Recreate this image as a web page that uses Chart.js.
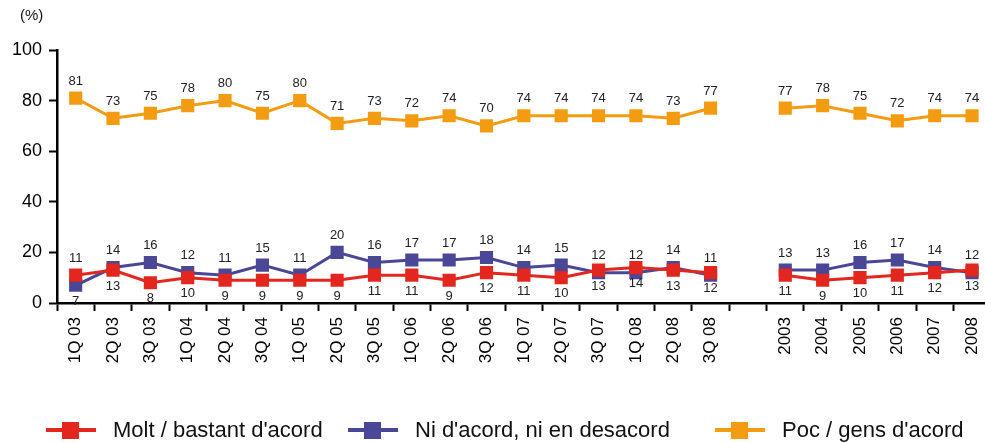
<!DOCTYPE html>
<html>
<head>
<meta charset="utf-8">
<script src="https://cdn.jsdelivr.net/npm/chart.js@4/dist/chart.umd.min.js"></script>
<style>
  body { margin: 0; background: #fff; overflow: hidden; font-family: "Liberation Sans", Arial, Helvetica, sans-serif; }
  #wrap { position: relative; width: 985px; height: 443px; overflow: hidden; }
  #chart { position: absolute; left: 0; top: 0; }
  #unit { position: absolute; left: 20px; top: 6px; font-size: 15px; color: #111; }
  .item { position: absolute; top: 417px; display: flex; align-items: center; height: 26px; font-size: 22px; color: #111; white-space: nowrap; }
  .sw { width: 50px; height: 4px; position: relative; margin-right: 17px; }
  .sw::after { content: ''; position: absolute; left: 16px; top: -6.5px; width: 17px; height: 17px; background: inherit; }
</style>
</head>
<body>
<div id="wrap">
  <canvas id="chart" width="1000" height="443"></canvas>
  <div id="unit">(%)</div>
  <div id="legend"></div>
</div>
<script>
// --- data ---
const periods = ['1Q 03', '2Q 03', '3Q 03', '1Q 04', '2Q 04', '3Q 04', '1Q 05', '2Q 05', '3Q 05',
  '1Q 06', '2Q 06', '3Q 06', '1Q 07', '2Q 07', '3Q 07', '1Q 08', '2Q 08', '3Q 08',
  '', '2003', '2004', '2005', '2006', '2007', '2008'];
const molt = [11, 13, 8, 10, 9, 9, 9, 9, 11, 11, 9, 12, 11, 10, 13, 14, 13, 12, null, 11, 9, 10, 11, 12, 13];
const niNi = [7, 14, 16, 12, 11, 15, 11, 20, 16, 17, 17, 18, 14, 15, 12, 12, 14, 11, null, 13, 13, 16, 17, 14, 12];
const poc = [81, 73, 75, 78, 80, 75, 80, 71, 73, 72, 74, 70, 74, 74, 74, 74, 73, 77, null, 77, 78, 75, 72, 74, 74];
const yTicks = [0, 20, 40, 60, 80, 100];

const names = ["Molt / bastant d'acord", "Ni d'acord, ni en desacord", "Poc / gens d'acord"];
const colors = ['#e3261e', '#4b4797', '#f39c12'];
const legendLeft = [46, 348, 715];

const font = '"Liberation Sans", Arial, Helvetica, sans-serif';

// --- value labels: orange and blue above the point, red below;
// swap the blue/red sides where the blue line sits well under the red one ---
const valueLabels = {
  id: 'valueLabels',
  afterDatasetsDraw(chart) {
    const ctx = chart.ctx;
    ctx.save();
    ctx.font = '13px ' + font;
    ctx.fillStyle = '#222';
    ctx.textAlign = 'center';
    ctx.textBaseline = 'middle';
    chart.data.datasets.forEach((ds, di) => {
      const meta = chart.getDatasetMeta(di);
      ds.data.forEach((v, i) => {
        if (v == null) return;
        const pt = meta.data[i];
        const swap = niNi[i] < molt[i] - 2;
        let above = di !== 0;
        if (swap && di < 2) above = !above;
        const dy = above ? -17 : 16;
        ctx.fillText(String(v), pt.x, pt.y + dy);
      });
    });
    ctx.restore();
  }
};

const series = [molt, niNi, poc];
new Chart(document.getElementById('chart'), {
  type: 'line',
  data: {
    labels: periods,
    datasets: series.map((d, i) => ({
      label: names[i],
      data: d,
      borderColor: colors[i],
      backgroundColor: colors[i],
      borderWidth: 3,
      tension: 0,
      spanGaps: false,
      pointStyle: 'rect',
      pointRadius: 9.3,
      pointBorderWidth: 0
    }))
  },
  options: {
    responsive: false,
    animation: false,
    devicePixelRatio: 1,
    layout: { padding: { top: 50, right: 5, left: 0, bottom: 0 } },
    plugins: { legend: { display: false }, tooltip: { enabled: false } },
    scales: {
      x: {
        type: 'category',
        offset: true,
        grid: { offset: true, drawOnChartArea: false, tickLength: 8, tickWidth: 2, tickColor: '#000' },
        border: { color: '#000', width: 2.5 },
        ticks: { autoSkip: false, minRotation: 90, maxRotation: 90, padding: 6, color: '#000', font: { family: font, size: 17 } },
        afterFit: s => { s.height = 140; }
      },
      y: {
        min: 0,
        max: 100,
        afterBuildTicks: s => { s.ticks = yTicks.map(v => ({ value: v })); },
        grid: { drawOnChartArea: false, tickLength: 8, tickWidth: 2, tickColor: '#000' },
        border: { color: '#000', width: 2.5 },
        ticks: { padding: 7, color: '#000', font: { family: font, size: 18 } },
        afterFit: s => { s.width = 57; }
      }
    }
  },
  plugins: [valueLabels]
});

// --- legend ---
const legend = document.getElementById('legend');
names.forEach((n, i) => {
  const item = document.createElement('div');
  item.className = 'item';
  item.style.left = legendLeft[i] + 'px';
  item.innerHTML = `<span class="sw" style="background:${colors[i]}"></span><span>${n}</span>`;
  legend.appendChild(item);
});
</script>
</body>
</html>
